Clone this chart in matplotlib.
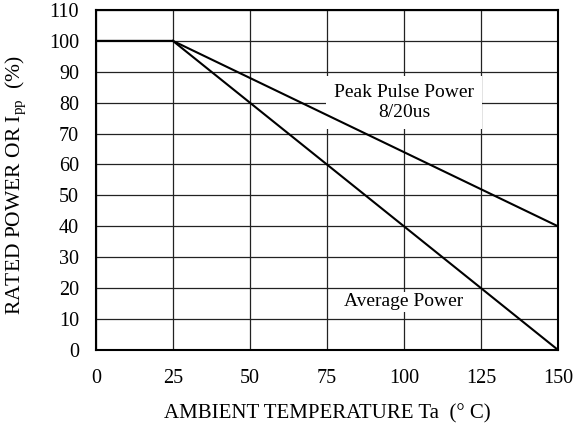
import matplotlib
matplotlib.use("Agg")
import matplotlib.pyplot as plt

plt.rcParams['font.family'] = ['Liberation Serif', 'DejaVu Serif']
plt.rcParams['mathtext.fontset'] = 'custom'
plt.rcParams['mathtext.rm'] = 'Liberation Serif'
plt.rcParams['mathtext.it'] = 'Liberation Serif:italic'

# Data
peak_temp = [0, 25, 150]
peak_power = [100, 100, 40]
avg_temp = [25, 150]
avg_power = [100, 0]
x_ticks = [0, 25, 50, 75, 100, 125, 150]
y_ticks = [0, 10, 20, 30, 40, 50, 60, 70, 80, 90, 100, 110]

fig = plt.figure(figsize=(5.74, 4.33), dpi=100)
ax = fig.add_axes([0.167, 0.192, 0.805, 0.785])

ax.plot(peak_temp, peak_power, color='black', lw=1.5, zorder=3)
ax.plot(avg_temp, avg_power, color='black', lw=1.5, zorder=3)

ax.set_xlim(0, 150)
ax.set_ylim(0, 110)
ax.set_xticks(x_ticks)
ax.set_yticks(y_ticks)
ax.grid(True, color='#222222', lw=0.9)
ax.set_axisbelow(True)
ax.tick_params(axis='x', length=0, labelsize=14.5, pad=14)
ax.tick_params(axis='y', length=0, labelsize=14.5, pad=12)
for s in ax.spines.values():
    s.set_linewidth(1.5)

ax.text(100, 80, 'Peak Pulse Power\n8/20us', ha='center', va='center', fontsize=14,
        linespacing=1.25, zorder=2,
        bbox=dict(facecolor='white', edgecolor='none', boxstyle='square,pad=0.4'))
ax.text(100, 15.5, 'Average Power', ha='center', va='center', fontsize=14, zorder=2,
        bbox=dict(facecolor='white', edgecolor='none', boxstyle='square,pad=0.1'))

ax.set_xlabel('AMBIENT TEMPERATURE Ta  (° C)', fontsize=15, labelpad=11)
ax.set_ylabel(r'RATED POWER OR I$_{\mathrm{pp}}$  (%)', fontsize=15.5)
ax.yaxis.set_label_coords(-0.146, 0.485)

fig.savefig('out.png', dpi=100)
